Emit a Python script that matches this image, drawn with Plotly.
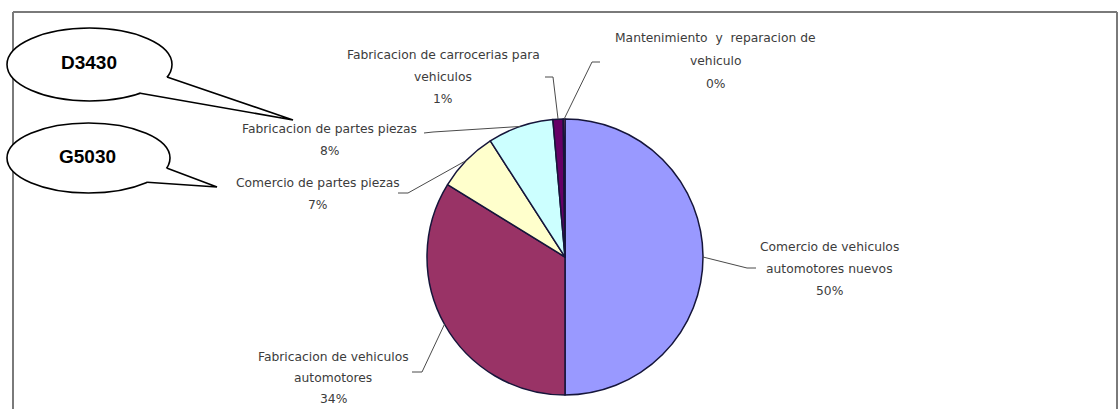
import math
import plotly.graph_objects as go

W, H = 1119, 409

# Share of each activity (percent)
categories = [
    "Comercio de vehiculos<br>automotores nuevos",
    "Fabricacion de vehiculos<br>automotores",
    "Comercio de partes piezas",
    "Fabricacion de partes piezas",
    "Fabricacion de carrocerias para<br>vehiculos",
    "Mantenimiento  y  reparacion de<br>vehiculo",
]
shares = [50.0, 33.8, 7.1, 7.7, 1.2, 0.2]
colors = ["#9999FF", "#993366", "#FFFFCC", "#CCFFFF", "#660066", "#FF8080"]

# Callout bubbles
callout_texts = ["D3430", "G5030"]

# Pie geometry in pixels
CX, CY, R = 565, 257, 138

# Label placement: centre x, first line y, line step, leader elbow, leader stub end
label_layout = [
    dict(x=829, y=247, step=22, elbow=(747, 268), stub=(756, 268)),
    dict(x=333, y=357, step=21, elbow=(422, 372), stub=(412, 372)),
    dict(x=318, y=183, step=22, elbow=(408, 193), stub=(398, 193)),
    dict(x=330, y=129, step=22, elbow=(433, 132), stub=(424, 133)),
    dict(x=443, y=55, step=22, elbow=(553, 77), stub=(545, 77)),
    dict(x=716, y=38, step=23, elbow=(592, 62), stub=(600, 62)),
]


def px(x, y):
    return x / W, 1 - y / H


fig = go.Figure()
fig.add_trace(go.Pie(
    labels=[c.replace("<br>", " ") for c in categories],
    values=shares,
    sort=False,
    direction="clockwise",
    rotation=0,
    marker=dict(colors=colors, line=dict(color="#15153a", width=1.5)),
    textinfo="none",
    hoverinfo="label+percent",
    showlegend=False,
    domain=dict(x=[(CX - R) / W, (CX + R) / W], y=[1 - (CY + R) / H, 1 - (CY - R) / H]),
))

shapes = []
annotations = []
total = sum(shares)
cum = 0.0
font = dict(family="DejaVu Sans, Liberation Sans, Arial", size=12.3, color="#3c3c3c")
for cat, val, lay in zip(categories, shares, label_layout):
    theta = 2 * math.pi * (cum + val / 2) / total
    cum += val
    ex, ey = CX + R * math.sin(theta), CY - R * math.cos(theta)
    (bx, by), (sx, sy) = lay["elbow"], lay["stub"]
    p0, p1, p2 = px(ex, ey), px(bx, by), px(sx, sy)
    shapes.append(dict(
        type="path", xref="paper", yref="paper",
        path=f"M {p0[0]},{p0[1]} L {p1[0]},{p1[1]} L {p2[0]},{p2[1]}",
        line=dict(color="#4a4a4a", width=1),
    ))
    lines = cat.split("<br>") + [f"{round(100 * val / total)}%"]
    for i, txt in enumerate(lines):
        ax, ay = px(lay["x"], lay["y"] + i * lay["step"])
        annotations.append(dict(
            x=ax, y=ay, xref="paper", yref="paper", text=txt.replace("  ", "&nbsp; "),
            showarrow=False, xanchor="center", yanchor="middle", font=font,
        ))

# Frame around the chart area
frame = "#7a7a7a"
for (x0, y0, x1, y1) in [(13, 12, 1117, 12), (13, 12, 13, 409), (1117, 12, 1117, 409)]:
    a, b = px(x0, y0), px(x1, y1)
    shapes.append(dict(type="line", xref="paper", yref="paper",
                       x0=a[0], y0=a[1], x1=b[0], y1=b[1],
                       line=dict(color=frame, width=2)))

# Speech-bubble callouts: ellipse centre/radii, tail attach angles (deg) and tip
bubbles = [
    dict(c=(89.5, 64.5), rx=82.5, ry=36.5, angles=(20, 52), tip=(293, 120)),
    dict(c=(88.5, 158), rx=81.5, ry=35, angles=(16.6, 44), tip=(217, 187)),
]
for text, b in zip(callout_texts, bubbles):
    (ecx, ecy), rx, ry = b["c"], b["rx"], b["ry"]
    a, c = px(ecx - rx, ecy - ry), px(ecx + rx, ecy + ry)
    shapes.append(dict(type="circle", xref="paper", yref="paper",
                       x0=a[0], y0=c[1], x1=c[0], y1=a[1],
                       fillcolor="white", line=dict(color="black", width=1.6)))
    att = [(ecx + rx * math.cos(math.radians(t)), ecy + ry * math.sin(math.radians(t)))
           for t in b["angles"]]
    (ux, uy), (lx, ly) = att
    tx, ty = b["tip"]
    inner = ((ux + lx) / 2 - 10, (uy + ly) / 2 - 6)
    pts = [px(ux, uy), px(tx, ty), px(lx, ly), px(*inner)]
    fill_path = "M " + " L ".join(f"{p[0]},{p[1]}" for p in pts) + " Z"
    shapes.append(dict(type="path", xref="paper", yref="paper", path=fill_path,
                       fillcolor="white", line=dict(width=0)))
    edge = [px(ux, uy), px(tx, ty), px(lx, ly)]
    shapes.append(dict(type="path", xref="paper", yref="paper",
                       path="M " + " L ".join(f"{p[0]},{p[1]}" for p in edge),
                       line=dict(color="black", width=1.6)))
    cx, cy = px(ecx - 1, ecy - 1.5)
    annotations.append(dict(x=cx, y=cy, xref="paper", yref="paper", text=f"<b>{text}</b>",
                            showarrow=False, xanchor="center", yanchor="middle",
                            font=dict(family="Liberation Sans, Arial", size=19, color="black")))

fig.update_layout(
    width=W, height=H,
    margin=dict(l=0, r=0, t=0, b=0),
    paper_bgcolor="white", plot_bgcolor="white",
    shapes=shapes, annotations=annotations,
)

fig.write_html("out.html")
